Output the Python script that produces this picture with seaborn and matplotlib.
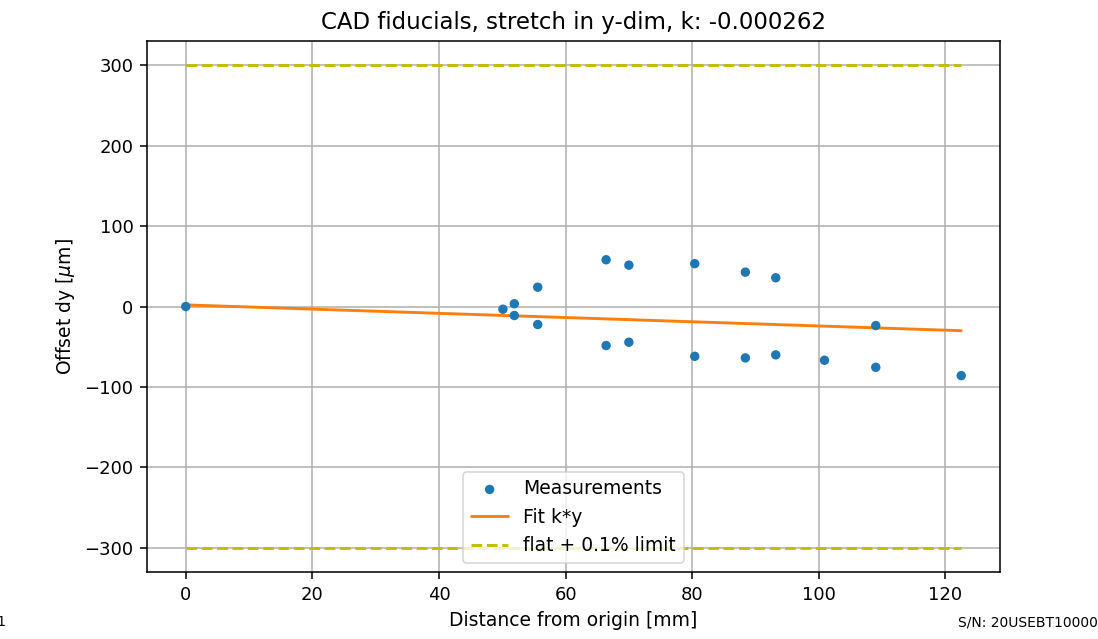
import matplotlib
matplotlib.use("Agg")
import matplotlib.pyplot as plt
import seaborn as sns
import pandas as pd

# Measurements
dist_mm = [0.0, 50.1, 51.9, 51.9, 55.6, 55.6, 66.4, 66.4, 70.0, 70.0,
           80.4, 80.4, 88.4, 88.4, 93.2, 93.2, 100.9, 109.0, 109.0, 122.5]
offset_um = [0.0, -3.4, 3.4, -11.2, 24.0, -22.4, 58.1, -48.5, 51.4, -44.4,
             53.2, -61.9, 42.7, -63.9, 35.7, -60.1, -66.8, -23.7, -75.6, -85.9]

# Fit line endpoints
fit_x = [0.0, 122.5]
fit_y = [2.0, -30.1]

# Limits
limit_x = [0.0, 122.5]
limit_upper = [300.0, 300.0]
limit_lower = [-300.0, -300.0]

title = "CAD fiducials, stretch in y-dim, k: -0.000262"
xticks = [0, 20, 40, 60, 80, 100, 120]
yticks = [-300, -200, -100, 0, 100, 200, 300]

sns.set_style("white")
plt.rcParams['font.family'] = ['DejaVu Sans']
plt.rcParams['text.color'] = 'black'
plt.rcParams['axes.labelcolor'] = 'black'
plt.rcParams['xtick.color'] = 'black'
plt.rcParams['ytick.color'] = 'black'

S = 1.39
fig = plt.figure(figsize=(10.98, 6.39), dpi=100)
ax = fig.add_axes([147/1098, 1 - 572/639, (1000 - 147)/1098, (572 - 41)/639])

df = pd.DataFrame({"x": dist_mm, "y": offset_um})
sns.scatterplot(data=df, x="x", y="y", ax=ax, color="#1f77b4", s=46,
                edgecolor="none", label="Measurements", zorder=3)
sns.lineplot(x=fit_x, y=fit_y, ax=ax, color="#ff7f0e", linewidth=1.5*S,
             label="Fit k*y", zorder=2)
sns.lineplot(x=limit_x, y=limit_upper, ax=ax, color=(0.75, 0.75, 0),
             linestyle="--", linewidth=1.5*S, label="flat + 0.1% limit", zorder=2)
sns.lineplot(x=limit_x, y=limit_lower, ax=ax, color=(0.75, 0.75, 0),
             linestyle="--", linewidth=1.5*S, zorder=2)

ax.margins(x=0.05, y=0.05)
ax.grid(True, color="#b0b0b0", linewidth=0.8*S)
ax.set_axisbelow(True)
for s in ax.spines.values():
    s.set_color("black")
    s.set_linewidth(0.8*S)
ax.tick_params(axis="both", which="both", direction="out", length=3.5*S,
               width=0.8*S, pad=3.5*S, color="black", labelsize=13,
               labelcolor="black", left=True, bottom=True)
ax.set_xlabel("Distance from origin [mm]", fontsize=13.5, labelpad=4*S, color="black")
ax.set_ylabel(r"Offset dy [$\mu$m]", fontsize=13.5, labelpad=4*S, color="black")
ax.set_title(title, fontsize=16.5, pad=6*S, color="black")
ax.set_xticks(xticks)
ax.set_yticks(yticks)
ax.set_yticklabels([str(v).replace("-", "\u2212") for v in yticks])

leg = ax.legend(loc="lower center", fontsize=13.5, frameon=True)
leg.get_frame().set_edgecolor("#cccccc")
leg.get_frame().set_linewidth(0.8*S)
for t in leg.get_texts():
    t.set_color("black")

fig.text(6/1098, 1 - 626/639, "2021-03-01", fontsize=10, ha="right", va="baseline")
fig.text(958/1098, 1 - 626/639, "S/N: 20USEBT1000001", fontsize=10, ha="left", va="baseline")

fig.savefig("out.png", dpi=100)
